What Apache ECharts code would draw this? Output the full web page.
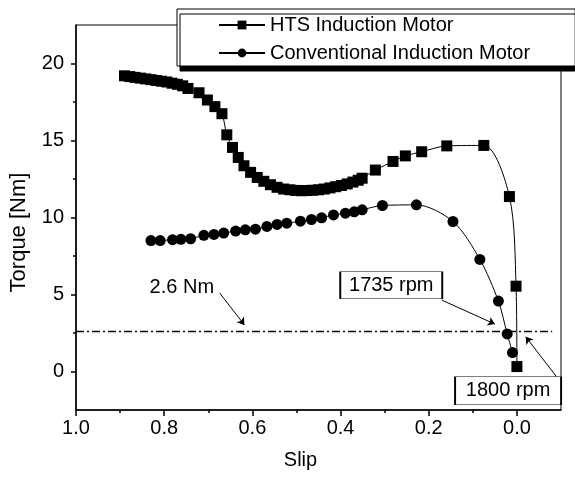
<!DOCTYPE html>
<html>
<head>
<meta charset="utf-8">
<script src="https://cdn.jsdelivr.net/npm/echarts@6/dist/echarts.min.js"></script>
<style>
  html, body { margin: 0; padding: 0; background: #fff; }
  #main { width: 575px; height: 479px; }
</style>
</head>
<body>
<div id="main"></div>
<script>
// HTS induction motor (squares)
var htsSlip = [0.890, 0.878, 0.866, 0.854, 0.842, 0.830, 0.818, 0.806, 0.794, 0.782,
  0.770, 0.758, 0.746, 0.721, 0.702, 0.685, 0.669, 0.658, 0.645, 0.632,
  0.619, 0.604, 0.589, 0.574, 0.559, 0.544, 0.529, 0.515, 0.502, 0.489,
  0.476, 0.463, 0.450, 0.437, 0.424, 0.411, 0.398, 0.385, 0.372, 0.360,
  0.351, 0.321, 0.281, 0.253, 0.216, 0.159, 0.075, 0.017, 0.002, 0.000];
var htsTorque = [19.20, 19.15, 19.10, 19.05, 19.00, 18.95, 18.90, 18.85, 18.80, 18.72,
  18.65, 18.55, 18.38, 18.10, 17.63, 17.20, 16.74, 15.37, 14.55, 13.90,
  13.36, 12.93, 12.60, 12.35, 12.13, 11.96, 11.85, 11.80, 11.76, 11.74,
  11.75, 11.77, 11.80, 11.85, 11.92, 12.00, 12.08, 12.18, 12.30, 12.42,
  12.55, 13.08, 13.64, 14.00, 14.27, 14.65, 14.68, 11.36, 5.54, 0.32];

// conventional induction motor (circles)
var convSlip = [0.830, 0.809, 0.781, 0.762, 0.740, 0.710, 0.687, 0.665, 0.638, 0.616,
  0.593, 0.567, 0.544, 0.522, 0.491, 0.466, 0.443, 0.416, 0.389, 0.369,
  0.351, 0.305, 0.228, 0.145, 0.084, 0.042, 0.022, 0.010];
var convTorque = [8.50, 8.50, 8.56, 8.58, 8.62, 8.84, 8.90, 8.99, 9.12, 9.20,
  9.24, 9.42, 9.55, 9.63, 9.76, 9.87, 9.98, 10.17, 10.28, 10.37,
  10.50, 10.78, 10.82, 9.74, 7.28, 4.57, 2.44, 1.23];

// 2.6 Nm load line
var refSlip = [1.0, -0.08];
var refTorque = 2.6;

var xTicks = [0, 0.2, 0.4, 0.6, 0.8, 1.0];
var xMinorTicks = [0.1, 0.3, 0.5, 0.7, 0.9];
var yTicks = [0, 5, 10, 15, 20];
var yMinorTicks = [2.5, 7.5, 12.5, 17.5];

var font = "'Liberation Sans', Arial, sans-serif";

function zip(xs, ys) {
  return xs.map(function (x, i) { return [x, ys[i]]; });
}

var myChart = echarts.init(document.getElementById('main'));
var option = {
  backgroundColor: '#fff',
  animation: false,
  textStyle: { fontFamily: font, color: '#000' },
  grid: {
    left: 75, right: 14, top: 25, bottom: 69,
    show: true, borderColor: '#000', borderWidth: 1
  },
  legend: {
    data: ['HTS Induction Motor', 'Conventional Induction Motor'],
    orient: 'vertical',
    left: 177, top: 9,
    itemWidth: 46, itemHeight: 11, itemGap: 8,
    padding: [6, 45, 3, 41],
    backgroundColor: '#fff',
    borderColor: '#000', borderWidth: 1,
    shadowColor: '#000', shadowBlur: 0, shadowOffsetX: 3, shadowOffsetY: 5,
    textStyle: { fontFamily: font, fontSize: 20, color: '#000' }
  },
  xAxis: [{
    type: 'value', inverse: true, min: -0.1, max: 1.0,
    name: 'Slip', nameLocation: 'middle', nameGap: 40,
    nameTextStyle: { fontSize: 20, color: '#000', padding: [0, 36, 0, 0] },
    axisLine: { onZero: false, lineStyle: { color: '#000', width: 1.5 } },
    axisTick: { customValues: xTicks, length: 6, lineStyle: { color: '#000', width: 1.5 } },
    axisLabel: {
      customValues: xTicks, margin: 8, fontSize: 20, color: '#000',
      formatter: function (v) { return v.toFixed(1); }
    },
    splitLine: { show: false }
  }, {
    type: 'value', inverse: true, min: -0.1, max: 1.0, position: 'bottom',
    axisLine: { show: false, onZero: false },
    axisTick: { customValues: xMinorTicks, length: 3, lineStyle: { color: '#000', width: 1.5 } },
    axisLabel: { show: false },
    splitLine: { show: false }
  }],
  yAxis: [{
    type: 'value', min: -2.5, max: 22.5,
    name: 'Torque [Nm]', nameLocation: 'middle', nameGap: 46,
    nameTextStyle: { fontSize: 22, color: '#000', padding: [0, 30, 0, 0] },
    axisLine: { show: true, onZero: false, lineStyle: { color: '#000', width: 1.5 } },
    axisTick: { show: true, customValues: yTicks, length: 5, lineStyle: { color: '#000', width: 1.5 } },
    axisLabel: { customValues: yTicks, margin: 12, fontSize: 20, color: '#000' },
    splitLine: { show: false }
  }, {
    type: 'value', min: -2.5, max: 22.5, position: 'left',
    axisLine: { show: false, onZero: false },
    axisTick: { show: true, customValues: yMinorTicks, length: 3, lineStyle: { color: '#000', width: 1.5 } },
    axisLabel: { show: false },
    splitLine: { show: false }
  }],
  series: [
    {
      name: 'HTS Induction Motor',
      type: 'line',
      data: zip(htsSlip, htsTorque),
      smooth: 0.3,
      symbol: 'rect', symbolSize: 11,
      itemStyle: { color: '#000' },
      lineStyle: { color: '#000', width: 1 }
    },
    {
      name: 'Conventional Induction Motor',
      type: 'line',
      data: zip(convSlip, convTorque),
      smooth: 0.3,
      symbol: 'circle', symbolSize: 11,
      itemStyle: { color: '#000' },
      lineStyle: { color: '#000', width: 1 }
    },
    {
      name: '2.6 Nm',
      type: 'line',
      data: refSlip.map(function (s) { return [s, refTorque]; }),
      symbol: 'none',
      lineStyle: { color: '#000', width: 1.5, type: [8, 3, 2, 3] },
      markLine: {
        silent: true,
        symbol: ['none', 'arrow'],
        symbolSize: 7,
        lineStyle: { color: '#000', width: 1, type: 'solid' },
        label: { show: false },
        data: [
          [{ coord: [0.674, 5.09] }, { coord: [0.618, 3.02] }],
          [{ coord: [0.170, 4.63] }, { coord: [0.050, 3.08] }],
          [{ coord: [-0.090, -0.34] }, { coord: [-0.020, 2.25] }]
        ]
      },
      markPoint: {
        silent: true,
        symbol: 'rect',
        label: { show: true, position: 'inside', fontSize: 20, color: '#000', fontFamily: font },
        data: [
          { coord: [0.760, 5.48], value: '2.6 Nm', symbolSize: [70, 22],
            itemStyle: { color: 'rgba(0,0,0,0)', borderWidth: 0 } },
          { coord: [0.285, 5.6], value: '1735 rpm', symbolSize: [102, 27],
            itemStyle: { color: '#fff', borderColor: '#000', borderWidth: 1 } },
          { coord: [0.020, -1.25], value: '1800 rpm', symbolSize: [106, 28],
            itemStyle: { color: '#fff', borderColor: '#000', borderWidth: 1 } }
        ]
      }
    }
  ]
};

myChart.setOption(option);
</script>
</body>
</html>
